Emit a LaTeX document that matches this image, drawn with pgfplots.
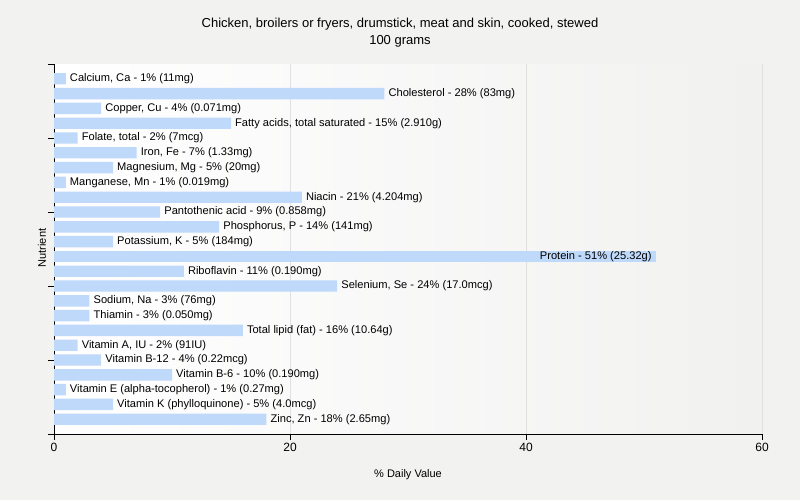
\documentclass[border=0pt]{standalone}
\usepackage{pgfplots}
\pgfplotsset{compat=1.18}
\usepackage{fontspec}
\setmainfont{Liberation Sans}
\definecolor{bg}{RGB}{242,242,241}
\definecolor{barc}{RGB}{191,217,250}
\definecolor{gridc}{RGB}{224,224,224}
\definecolor{plotr}{RGB}{241,241,240}
\begin{document}
\begin{tikzpicture}
\fill[bg] (-54bp,-66bp) rectangle (746bp,434bp);
\path[use as bounding box] (-54bp,-66bp) rectangle (746bp,434bp);
\begin{axis}[
 at={(0,0)}, anchor=south west,
 scale only axis, width=708bp, height=370bp,
 xmin=0, xmax=60, ymin=-1, ymax=24, y dir=reverse,
 xbar, bar width=0.77, bar shift=0pt,
 axis lines*=left, axis line style={-, black, line width=1bp},
 xtick={0,20,40,60}, ytick={-1,4,9,14,19,24}, yticklabels={},
 tick align=outside, major tick length=6bp,
 tick style={black, line width=1bp},
 xmajorgrids, grid style={gridc, line width=1bp},
 axis background/.style={left color=white, right color=plotr},
 ticklabel style={font=\fontsize{12bp}{14bp}\selectfont},
 /pgf/number format/assume math mode=true,
 point meta=explicit symbolic,
 nodes near coords,
 every node near coord/.style={anchor=west, font=\fontsize{11.1bp}{13bp}\selectfont, inner sep=2bp, xshift=2bp, text=black},
 clip=false,
]
\addplot[draw=none, fill=barc] coordinates {
(1,0) [Calcium, Ca - 1\% (11mg)]
(28,1) [Cholesterol - 28\% (83mg)]
(4,2) [Copper, Cu - 4\% (0.071mg)]
(15,3) [Fatty acids, total saturated - 15\% (2.910g)]
(2,4) [Folate, total - 2\% (7mcg)]
(7,5) [Iron, Fe - 7\% (1.33mg)]
(5,6) [Magnesium, Mg - 5\% (20mg)]
(1,7) [Manganese, Mn - 1\% (0.019mg)]
(21,8) [Niacin - 21\% (4.204mg)]
(9,9) [Pantothenic acid - 9\% (0.858mg)]
(14,10) [Phosphorus, P - 14\% (141mg)]
(5,11) [Potassium, K - 5\% (184mg)]
(11,13) [Riboflavin - 11\% (0.190mg)]
(24,14) [Selenium, Se - 24\% (17.0mcg)]
(3,15) [Sodium, Na - 3\% (76mg)]
(3,16) [Thiamin - 3\% (0.050mg)]
(16,17) [Total lipid (fat) - 16\% (10.64g)]
(2,18) [Vitamin A, IU - 2\% (91IU)]
(4,19) [Vitamin B-12 - 4\% (0.22mcg)]
(10,20) [Vitamin B-6 - 10\% (0.190mg)]
(1,21) [Vitamin E (alpha-tocopherol) - 1\% (0.27mg)]
(5,22) [Vitamin K (phylloquinone) - 5\% (4.0mcg)]
(18,23) [Zinc, Zn - 18\% (2.65mg)]
};
\addplot[draw=none, fill=barc, every node near coord/.append style={anchor=east, xshift=-4bp}] coordinates {
(51,12) [Protein - 51\% (25.32g)]
};
\end{axis}
\node[font=\fontsize{13bp}{17bp}\selectfont, align=center, text=black] at (346bp,401bp) {Chicken, broilers or fryers, drumstick, meat and skin, cooked, stewed\\100 grams};
\node[font=\fontsize{11bp}{13bp}\selectfont, text=black] at (354bp,-41bp) {\% Daily Value};
\node[font=\fontsize{11bp}{13bp}\selectfont, text=black, rotate=90] at (-12bp,186bp) {Nutrient};
\end{tikzpicture}
\end{document}
